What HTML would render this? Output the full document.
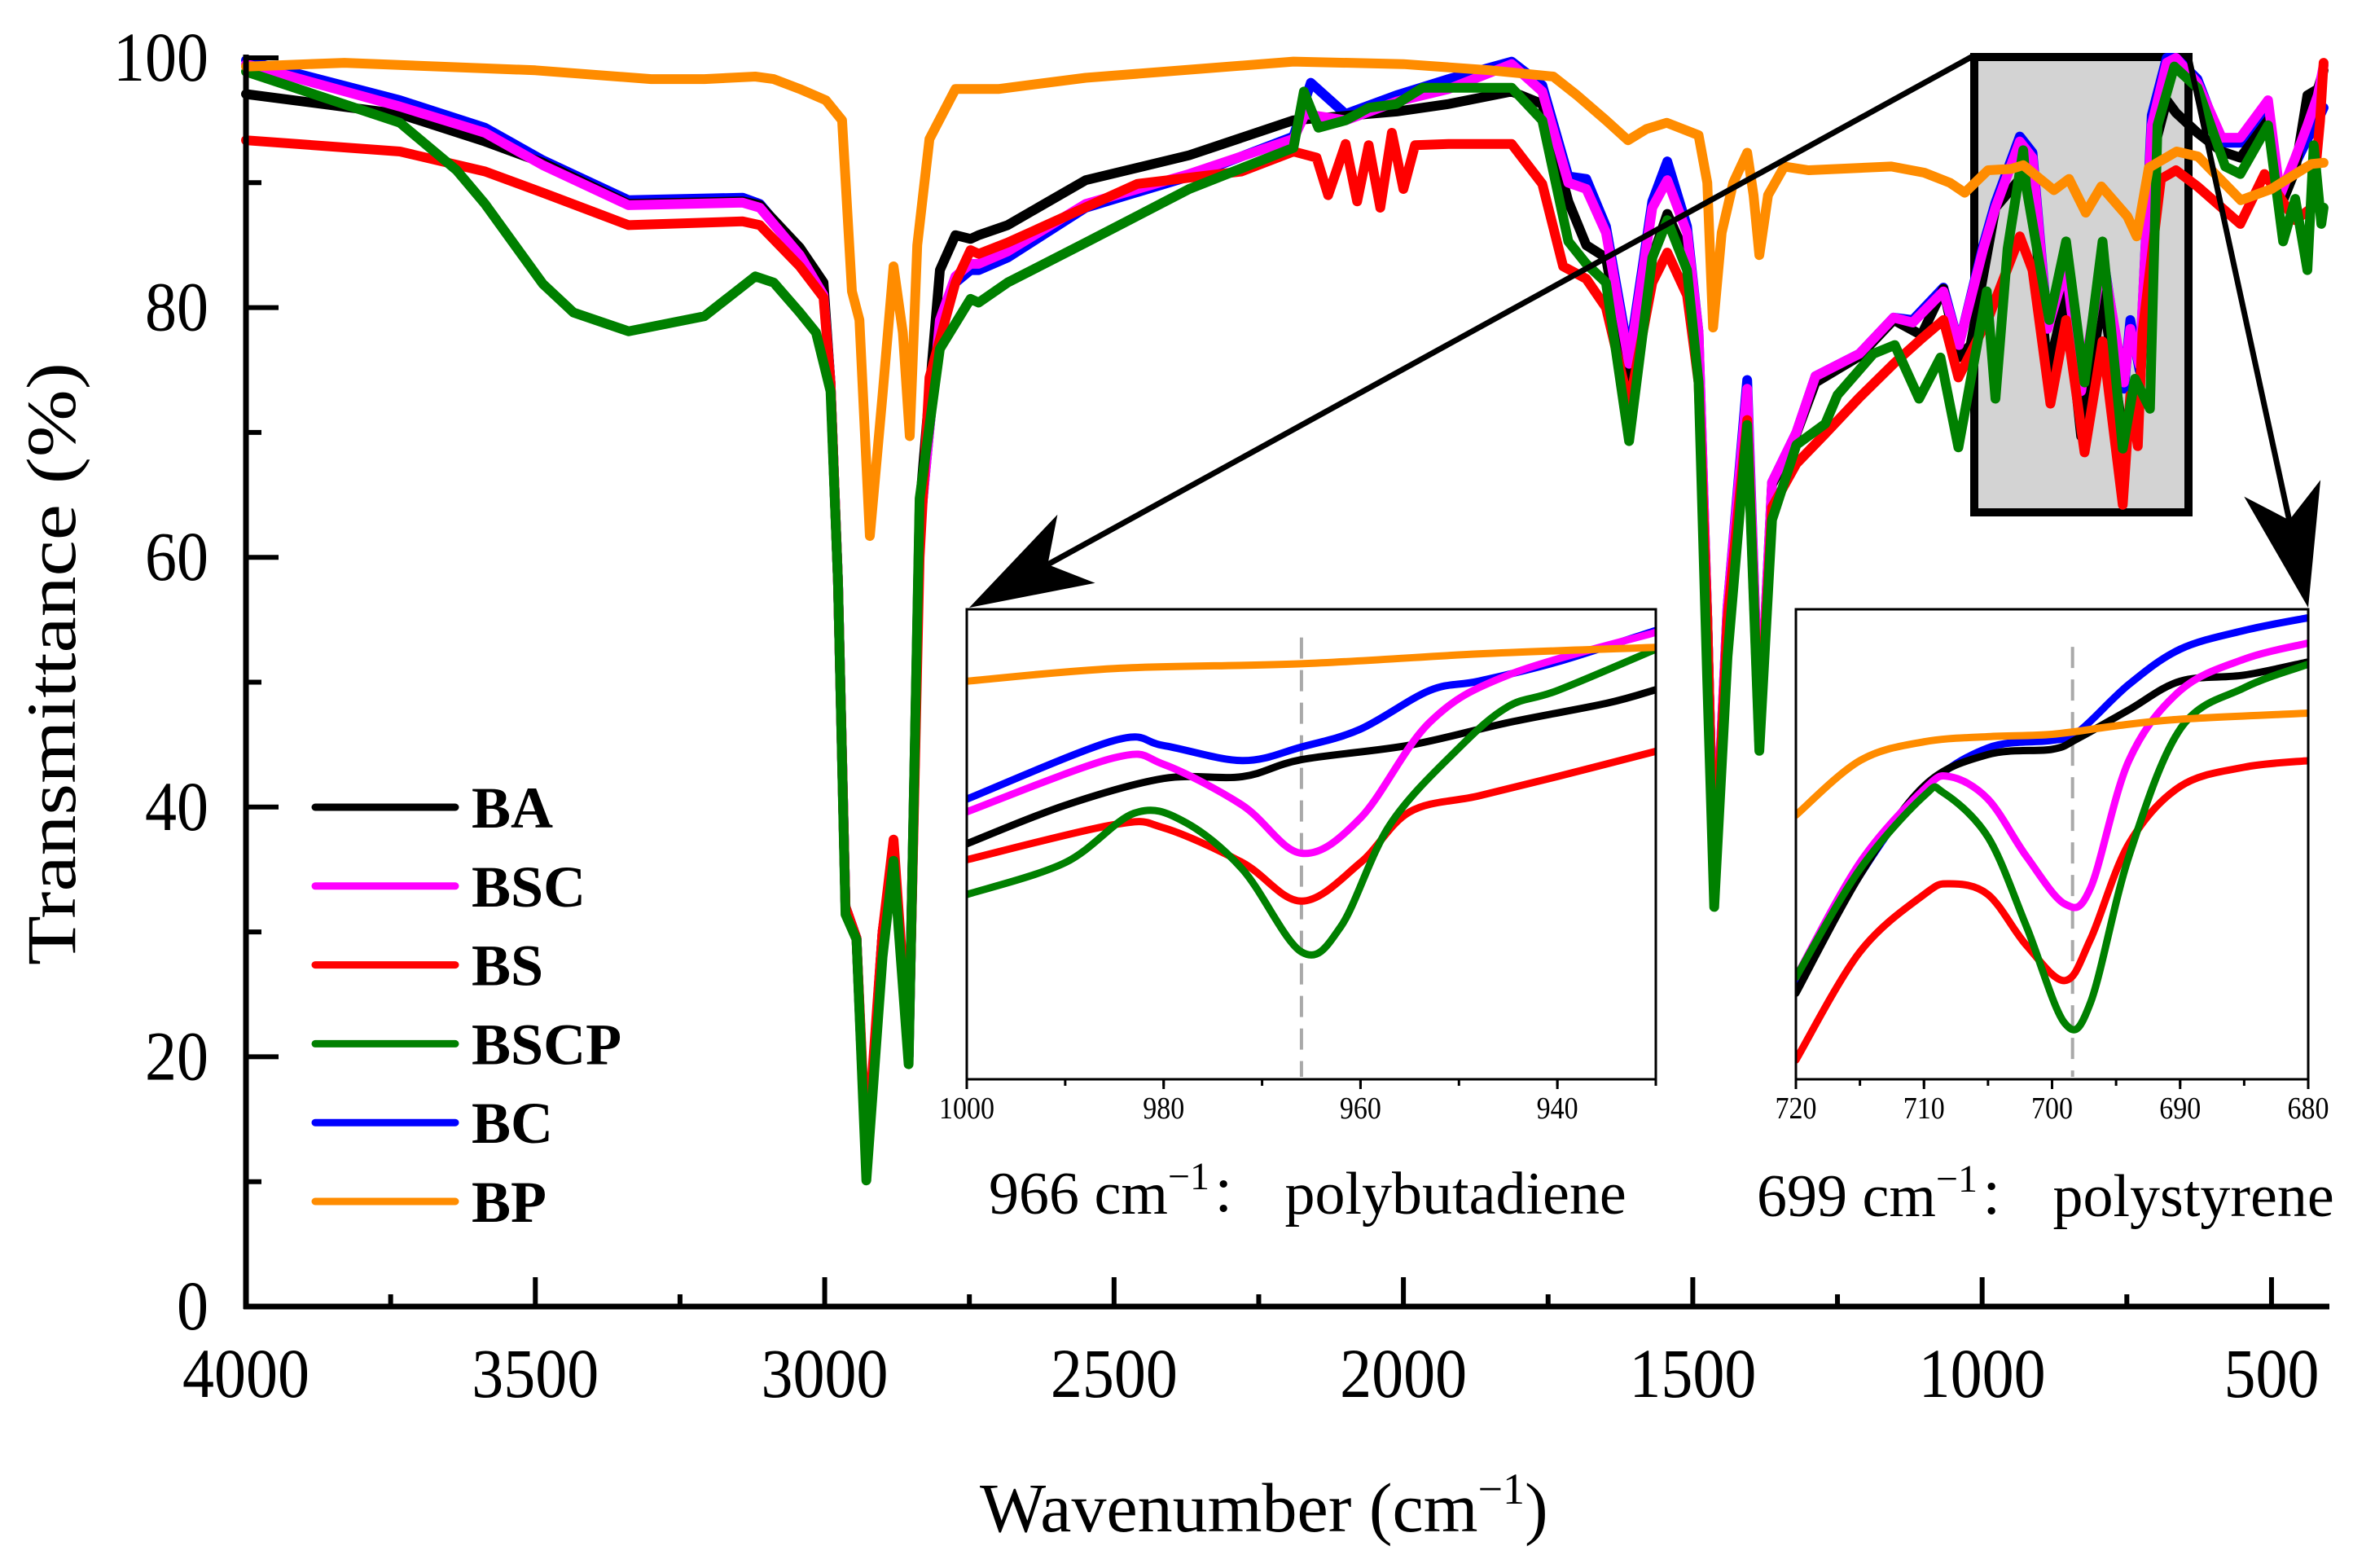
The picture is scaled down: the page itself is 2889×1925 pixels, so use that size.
<!DOCTYPE html>
<html><head><meta charset="utf-8"><title>FTIR spectra</title>
<style>
html,body{margin:0;padding:0;background:#fff;}
svg{display:block;}
text{font-family:"Liberation Serif","Noto Serif CJK SC",serif;fill:#000;}
</style></head>
<body>
<svg id="chart" width="2889" height="1925" viewBox="0 0 2889 1925" xmlns="http://www.w3.org/2000/svg">
<g id="grey-layer"></g>
<g id="main-series"></g>
<g id="axes"></g>
<g id="arrows"></g>
<g id="inset1"></g>
<g id="inset2"></g>
<g id="legend"></g>
<g id="labels"></g>
</svg>
<script>
// ---------- main chart data ----------
const seriesNames = ["BC","BA","BSC","BS","BSCP","BP"];
const seriesColors = ["#0000ff","#000000","#ff00ff","#ff0000","#008000","#ff8c00"];

const baWn = [4000,3734,3587,3487,3339,3142,3112,3043,3002,2990,2977,2964,2945,2928,2900,2881,2855,2836,2801,2774,2748,2734,2684,2549,2370,2190,2012,1922,1813,1760,1715,1684,1650,1610,1570,1544,1510,1490,1475,1463,1440,1406,1385,1363,1321,1288,1212,1153,1105,1067,1041,1020,977,935,913,887,855,829,792,755,728,707,681,665,628,586,554,506,485,459,438,420,410];
const baT  = [97.1,95.5,93.3,91.6,88.3,88.5,88.2,84.8,82,74,58,32,29.5,11,30,36.5,20,64,83,85.8,85.5,85.8,86.6,90.2,92.2,95,95.7,96.3,97.3,96.3,88.5,85,84,73.6,84,87.5,84,76,55,33,55,73,45,65.8,69.9,74,76.1,79,77.8,81.5,76,77,88,90.3,89,74.7,81,69.7,81,69.4,73,92,96.6,95.6,94,92.5,92,95,88,91,97,97.5,99];

const bscWn = [4000,3734,3587,3487,3339,3142,3112,3043,3002,2990,2977,2964,2945,2928,2900,2881,2855,2836,2801,2774,2748,2734,2684,2549,2370,2190,2170,2100,2012,1922,1813,1760,1715,1684,1650,1610,1570,1544,1510,1490,1475,1463,1440,1406,1385,1363,1321,1288,1212,1153,1120,1067,1040,998,977,935,913,887,855,829,792,755,744,728,707,681,665,628,586,554,506,485,459,438,420,410];
const bscT  = [99.5,96.1,94,91.4,88.2,88.4,88,84.2,81,74,58,32,29.5,11,30,36,20,62,79,82.5,83.5,83.5,84.5,88.3,90.7,93.5,95.5,95,96.5,97.5,99.5,97.3,90,89.5,86,75.5,88,90.2,86,78,55,33.5,56,73.5,45.5,66,70,74.5,76.3,79.2,78.8,81.3,77,84.7,88,93.3,92,78.3,83.3,73.3,84,74,78.3,75.4,94.6,99.6,100,98,93.6,93.6,96.6,89,92,94.6,97,99.4];

const bcWn = [4000,3734,3587,3487,3339,3142,3112,3043,3002,2990,2977,2964,2945,2928,2900,2881,2855,2836,2801,2774,2748,2734,2684,2549,2370,2190,2160,2100,2012,1922,1813,1760,1715,1684,1650,1610,1570,1544,1510,1490,1475,1463,1440,1406,1385,1363,1321,1288,1212,1153,1120,1067,1040,998,977,935,913,887,855,829,792,755,744,728,707,681,665,628,586,554,506,485,459,438,420,410];
const bcT  = [99.8,96.6,94.4,91.8,88.6,88.8,88.3,84.5,81.5,74,58,32,29.5,11,30,36,20,62,79,82,83,83,84,88,90.5,93.7,98,95.5,97,98.3,99.7,97.8,90.5,90.3,86.5,76,88.5,91.7,86.5,78,55,33.5,56,74.2,45.5,66,70,74.5,76.3,79.2,79,81.6,77,85,88.4,93.7,92.4,78.5,83.3,72.5,84.3,73.5,79,75,95.4,100,100,98.3,93.2,93.2,96,88.5,91.5,93.5,95,96];

const bsWn = [4000,3734,3587,3487,3339,3142,3112,3043,3002,2990,2977,2964,2945,2928,2900,2881,2855,2836,2819,2774,2748,2734,2684,2460,2280,2190,2150,2130,2100,2080,2060,2040,2020,2000,1980,1922,1813,1760,1724,1684,1650,1610,1570,1544,1510,1490,1475,1463,1440,1406,1385,1363,1321,1271,1212,1153,1105,1067,1041,988,935,913,882,855,823,792,757,744,731,723,691,665,628,554,512,459,430,416,410];
const bsT  = [93.4,92.5,90.9,89.2,86.6,86.9,86.6,83.3,80.8,74,58,32,29.5,12,30,37.4,20.5,60,74.4,82,84.6,84.3,85.2,89.9,90.9,92.5,92,89,93.1,88.5,93,88,94,89.5,93,93.1,93.1,89.9,83.3,82.3,80,72.2,82,84.4,81,74,55,33,55,71,45,64,67.5,69.9,72.8,75.5,77.5,79,74.4,79.3,85.7,83,72.3,79,68.4,77.3,64.2,73,68.9,78,90.3,91,89.7,86.7,90.7,87,88,95,99.6];

const bscpWn = [4000,3734,3636,3587,3487,3434,3339,3208,3120,3088,3043,3015,2990,2977,2964,2945,2928,2900,2881,2855,2836,2801,2748,2734,2684,2549,2370,2190,2172,2147,2100,2060,2012,1967,1813,1760,1715,1684,1650,1610,1570,1544,1510,1490,1475,1463,1440,1406,1385,1363,1321,1271,1250,1188,1151,1109,1072,1041,992,977,956,929,924,884,855,823,792,757,736,710,697,668,628,580,554,506,480,459,438,427,414,410];
const bscpT  = [98.9,94.8,91,88.3,81.9,79.6,78.1,79.3,82.5,82,79.6,78,73.3,58,31.4,29.4,10.1,28,35.7,19.4,64.7,76.7,80.7,80.4,82,85.2,89.5,92.8,97.3,94.4,95,96,96.3,97.6,97.6,95,85.3,83.5,82,69.3,84,87,83,74,50,32,52,70.6,44.5,63,69,70.7,73,76.3,77,72.7,76,68.8,81.3,72.7,84.7,92.6,89.7,79,85.3,74,85.3,68.7,74.3,71.9,94.6,99.3,97.6,91.3,90.7,94.6,85.3,88.7,83,93,86.7,88];

const bpWn = [4000,3830,3500,3300,3208,3120,3088,3043,2998,2970,2953,2940,2922,2900,2881,2865,2853,2840,2819,2774,2700,2549,2190,2000,1850,1741,1700,1650,1612,1580,1545,1490,1475,1465,1450,1430,1406,1395,1385,1370,1342,1300,1157,1100,1056,1030,990,950,929,876,850,821,794,749,733,712,664,627,553,500,431,410];
const bpT  = [99.3,99.6,99,98.3,98.3,98.5,98.3,97.5,96.6,95,81.3,79,61.7,73,83.3,78,69.7,85,93.5,97.5,97.5,98.4,99.7,99.5,99,98.5,97,95,93.4,94.3,94.8,93.8,90,78.4,86,90,92.4,89,84.2,89,91.3,91,91.3,90.8,90,89.2,91,91.1,91.4,89.4,90.3,87.6,89.7,87.3,85.7,91.2,92.5,92.1,88.6,89.5,91.5,91.6];

const mainWn = [bcWn,baWn,bscWn,bsWn,bscpWn,bpWn];
const mainT  = [bcT,baT,bscT,bsT,bscpT,bpT];

const xTickLabels = ["4000","3500","3000","2500","2000","1500","1000","500"];
const yTickLabels = ["0","20","40","60","80","100"];

// ---------- inset 1 data (966 cm-1) ----------
const in1BcWn=[1000,985,980,972,966,960,953,948,940,930];
const in1BcV =[59.6,72.1,71,67.8,70.7,74.5,82.7,84.7,88.8,95.5];
const in1BaWn=[1000,990,980,972,966,955,945,935,930];
const in1BaV =[50.1,58.3,64,64.4,68,71.1,75.9,80,82.9];
const in1BscWn=[1000,985,980,972,966,960,953,945,930];
const in1BscV =[56.9,68.4,67,58.3,48.1,55.6,75.9,86,95.1];
const in1BsWn=[1000,985,980,972,966,960,955,948,940,930];
const in1BsV =[46.7,54.2,53.5,46.1,37.9,46.1,56.9,60.3,64.4,69.8];
const in1BscpWn=[1000,990,983,978,972,966,962,957,950,945,940,930];
const in1BscpV =[39.3,46.1,56.6,54.9,44.7,27.1,32.5,54.2,70.5,79.3,82.7,91.5];
const in1BpWn=[1000,985,966,948,930];
const in1BpV =[84.7,87.4,88.4,90.5,91.9];
const in1Ticks=["1000","980","960","940"];

// ---------- inset 2 data (699 cm-1) ----------
const in2BcWn=[720,715,710,705,700,698,694,690,685,680];
const in2BcV =[19,43.4,61.7,70.5,72.1,73.8,84,91.5,95.5,98.2];
const in2BaWn=[720,715,710,705,700,698,694,690,685,680];
const in2BaV =[18.3,43.4,62.4,69.1,70.2,72.5,78.6,84.7,86,88.8];
const in2BscWn=[720,715,710,708,705,702,699,697,694,690,685,680];
const in2BscV =[21.7,46.1,61.7,64.4,59.6,47.4,37.3,40.7,67.8,82.7,89.4,92.8];
const in2BsWn=[720,715,710,708,705,702,699,697,694,690,685,680];
const in2BsV =[4.1,27.1,39.3,41.6,39.3,28.5,21,29.8,50.1,62.3,66.4,67.8];
const in2BscpWn=[720,715,710,708.5,705,702,699,697,694,690,685,680];
const in2BscpV =[21.7,44.7,60.3,61,51.5,32.5,11.9,16.3,47.4,74.5,83.3,88.3];
const in2BpWn=[720,715,710,705,700,695,690,680];
const in2BpV =[56.2,67.8,71.8,72.9,73.4,75.2,76.6,77.9];
const in2Ticks=["720","710","700","690","680"];

// ---------- layout ----------
const NS="http://www.w3.org/2000/svg";
const X0=302, X1=2860, Y0=1604, Y100=71;
const xs = w => X0 + (4000-w)*(X1-X0)/3600;
const ys = t => Y0 - t*(Y0-Y100)/100;
function mk(tag, attrs, parent){const e=document.createElementNS(NS,tag);for(const k in attrs)e.setAttribute(k,attrs[k]);parent.appendChild(e);return e;}

const grey=document.getElementById('grey-layer');
const gb=mk('rect',{x:2424,y:70,width:263,height:559,fill:'#d3d3d3',stroke:'#000','stroke-width':10},grey);



const ms=document.getElementById('main-series');
for(let s=0;s<seriesNames.length;s++){
  const wn=mainWn[s], t=mainT[s];
  let d='';
  for(let i=0;i<wn.length;i++) d+=(i?'L':'M')+xs(wn[i]).toFixed(1)+' '+ys(t[i]).toFixed(1);
  const p=mk('path',{d:d,fill:'none',stroke:seriesColors[s],'stroke-width':12,'stroke-linejoin':'round','stroke-linecap':'round'},ms);
  
  
}

const ax=document.getElementById('axes');
const yAxis=mk('line',{x1:X0,y1:Y100-4,x2:X0,y2:Y0+3,stroke:'#000','stroke-width':7},ax);


const xAxis=mk('line',{x1:X0-3,y1:Y0,x2:X1,y2:Y0,stroke:'#000','stroke-width':7},ax);


for(let i=0;i<xTickLabels.length;i++){
  const w=+xTickLabels[i], x=xs(w);
  mk('line',{x1:x,y1:Y0,x2:x,y2:Y0-36,stroke:'#000','stroke-width':6},ax);
  const tx=mk('text',{x:x,y:1715,'font-size':86,'text-anchor':'middle',textLength:xTickLabels[i].length*39,lengthAdjust:'spacingAndGlyphs'},ax);
  tx.textContent=xTickLabels[i];
  
  
}
for(let w=3750;w>400;w-=500){const x=xs(w);mk('line',{x1:x,y1:Y0,x2:x,y2:Y0-15,stroke:'#000','stroke-width':6},ax);}
for(let i=0;i<yTickLabels.length;i++){
  const v=+yTickLabels[i], y=ys(v);
  mk('line',{x1:X0,y1:y,x2:X0+40,y2:y,stroke:'#000','stroke-width':6},ax);
  const tx=mk('text',{x:256,y:y+28,'font-size':86,'text-anchor':'end',textLength:yTickLabels[i].length*39,lengthAdjust:'spacingAndGlyphs'},ax);
  tx.textContent=yTickLabels[i];
  
  
}
for(let v=10;v<100;v+=20){const y=ys(v);mk('line',{x1:X0,y1:y,x2:X0+19,y2:y,stroke:'#000','stroke-width':6},ax);}

const ar=document.getElementById('arrows');
function arrow(x1,y1,x2,y2,name){
  const g=mk('g',{},ar);
  
  
  const dx=x2-x1, dy=y2-y1, L=Math.hypot(dx,dy), ux=dx/L, uy=dy/L, px=-uy, py=ux;
  const hl=150, hw=48, nl=110;
  mk('line',{x1:x1,y1:y1,x2:x2-ux*nl,y2:y2-uy*nl,stroke:'#000','stroke-width':7},g);
  const pts=[[x2,y2],[x2-ux*hl+px*hw,y2-uy*hl+py*hw],[x2-ux*nl,y2-uy*nl],[x2-ux*hl-px*hw,y2-uy*hl-py*hw]];
  mk('polygon',{points:pts.map(p=>p[0].toFixed(1)+','+p[1].toFixed(1)).join(' '),fill:'#000'},g);
}
arrow(2424,68,1190,746,'arrow-to-inset-966');
arrow(2687,68,2834,746,'arrow-to-inset-699');

function smooth(pts){
  let d='M'+pts[0][0].toFixed(1)+' '+pts[0][1].toFixed(1);
  for(let i=0;i<pts.length-1;i++){
    const p0=pts[Math.max(0,i-1)],p1=pts[i],p2=pts[i+1],p3=pts[Math.min(pts.length-1,i+2)];
    const c1=[p1[0]+(p2[0]-p0[0])/6,p1[1]+(p2[1]-p0[1])/6];
    const c2=[p2[0]-(p3[0]-p1[0])/6,p2[1]-(p3[1]-p1[1])/6];
    d+='C'+c1[0].toFixed(1)+' '+c1[1].toFixed(1)+' '+c2[0].toFixed(1)+' '+c2[1].toFixed(1)+' '+p2[0].toFixed(1)+' '+p2[1].toFixed(1);
  }
  return d;
}

function inset(gid,name,bx,by,bw,bh,wL,wR,ticks,minorStep,dashW,dashTopV,wns,vals){
  const g=document.getElementById(gid);
  
  
  const ix=w=>bx+(wL-w)*bw/(wL-wR), iy=v=>by+bh*(1-v/100);
  mk('rect',{x:bx,y:by,width:bw,height:bh,fill:'#fff',stroke:'none'},g);
  const dl=mk('line',{x1:ix(dashW),y1:iy(dashTopV),x2:ix(dashW),y2:by+bh-3,stroke:'#a9a9a9','stroke-width':4,'stroke-dasharray':'26 14'},g);
  
  
  const cp=mk('clipPath',{id:gid+'-clip'},g);
  mk('rect',{x:bx,y:by,width:bw,height:bh},cp);
  const cg=mk('g',{'clip-path':'url(#'+gid+'-clip)'},g);
  for(let s=0;s<seriesNames.length;s++){
    const pts=wns[s].map((w,i)=>[ix(w),iy(vals[s][i])]);
    const p=mk('path',{d:smooth(pts),fill:'none',stroke:seriesColors[s],'stroke-width':9,'stroke-linecap':'round'},cg);
    
    
  }
  mk('rect',{x:bx,y:by,width:bw,height:bh,fill:'none',stroke:'#000','stroke-width':3},g);
  for(let w=wL;w>=wR-0.001;w-=minorStep){
    const x=ix(w); mk('line',{x1:x,y1:by+bh,x2:x,y2:by+bh+8,stroke:'#000','stroke-width':3},g);
  }
  for(let i=0;i<ticks.length;i++){
    const w=+ticks[i], x=ix(w);
    mk('line',{x1:x,y1:by+bh,x2:x,y2:by+bh+12,stroke:'#000','stroke-width':3},g);
    const t=mk('text',{x:x,y:by+bh+48,'font-size':38,'text-anchor':'middle',textLength:ticks[i].length*17,lengthAdjust:'spacingAndGlyphs'},g);
    t.textContent=ticks[i];
    
    
  }
}
inset('inset1','inset-966',1187,748,846,577,1000,930,in1Ticks,10,966,94,
  [in1BcWn,in1BaWn,in1BscWn,in1BsWn,in1BscpWn,in1BpWn],[in1BcV,in1BaV,in1BscV,in1BsV,in1BscpV,in1BpV]);
inset('inset2','inset-699',2205,748,629,577,720,680,in2Ticks,5,698.4,92,
  [in2BcWn,in2BaWn,in2BscWn,in2BsWn,in2BscpWn,in2BpWn],[in2BcV,in2BaV,in2BscV,in2BsV,in2BscpV,in2BpV]);

const legendNames=["BA","BSC","BS","BSCP","BC","BP"];
const legendColors=["#000000","#ff00ff","#ff0000","#008000","#0000ff","#ff8c00"];
const lg=document.getElementById('legend');


for(let i=0;i<legendNames.length;i++){
  const y=991+i*96.8;
  const g=mk('g',{},lg);
  
  
  mk('line',{x1:387,y1:y,x2:559,y2:y,stroke:legendColors[i],'stroke-width':9,'stroke-linecap':'round'},g);
  const t=mk('text',{x:579,y:y+25,'font-size':72,'font-weight':'bold'},g);
  t.textContent=legendNames[i];
}
</script>
<svg style="position:absolute;left:0;top:0" width="2889" height="1925" viewBox="0 0 2889 1925" xmlns="http://www.w3.org/2000/svg">
<text x="0" y="0" transform="translate(92,815) rotate(-90)" font-size="86" text-anchor="middle" textLength="740" lengthAdjust="spacingAndGlyphs" style="font-family:'Liberation Serif',serif">Transmittance (%)</text>
<text x="1203" y="1880" font-size="86" style="font-family:'Liberation Serif',serif">Wavenumber (cm<tspan dy="-34" font-size="54">−1</tspan><tspan dy="34">)</tspan></text>
<text x="1214" y="1490" font-size="74" style="font-family:'Liberation Serif','Noto Serif CJK SC',serif">966 cm<tspan dy="-30" font-size="48">−1</tspan><tspan dy="30">： polybutadiene</tspan></text>
<text x="2157" y="1493" font-size="74" style="font-family:'Liberation Serif','Noto Serif CJK SC',serif">699 cm<tspan dy="-30" font-size="48">−1</tspan><tspan dy="30">： polystyrene</tspan></text>
</svg>
</body></html>
